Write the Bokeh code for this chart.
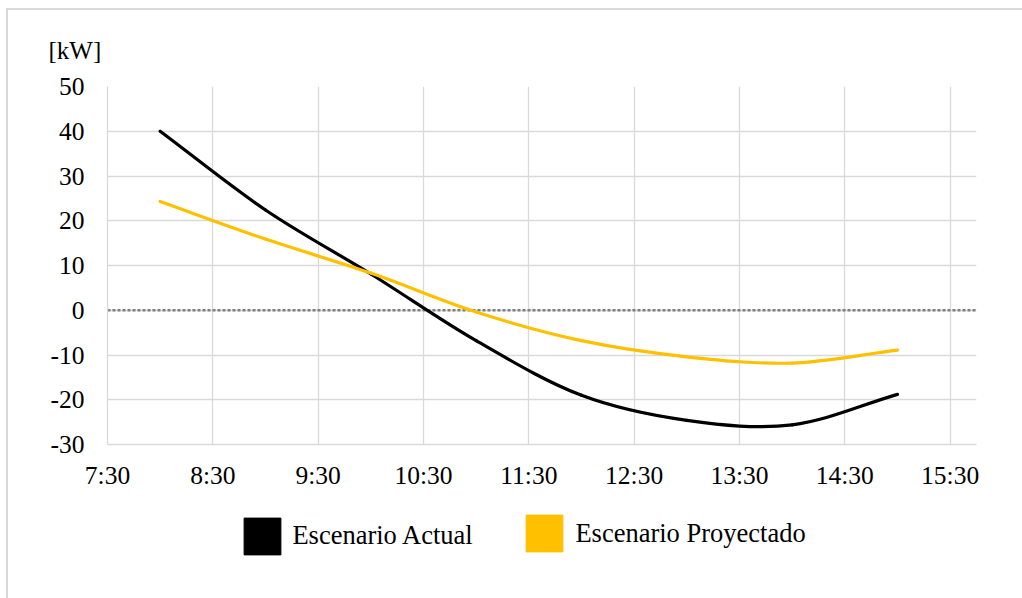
from bokeh.plotting import figure
from bokeh.layouts import column
from bokeh.models import (Range1d, FixedTicker, Span, Legend, LegendItem,
                          ColumnDataSource)
from bokeh.embed import file_html
from bokeh.resources import INLINE
import numpy as np

# Hourly power readings [kW]
times = ["8:00", "9:00", "10:00", "11:00", "12:00", "13:00", "14:00", "15:00"]
actual = [40.0, 22.4, 8.1, -6.8, -19.0, -24.6, -25.6, -18.8]
proyectado = [24.3, 15.9, 8.3, -0.4, -6.8, -10.4, -11.8, -8.9]

series_names = ["Escenario Actual", "Escenario Proyectado"]
series_colors = ["#000000", "#FFC000"]

x_tick_labels = ["7:30", "8:30", "9:30", "10:30", "11:30", "12:30", "13:30", "14:30", "15:30"]
y_ticks = [-30, -20, -10, 0, 10, 20, 30, 40, 50]
y_unit = "[kW]"

FONT = "Liberation Serif"
GRID = "#d9d9d9"
CANVAS_W = 1014


def to_hours(t):
    h, m = t.split(":")
    return int(h) + int(m) / 60.0


hours = [to_hours(t) for t in times]
x_ticks = [to_hours(t) for t in x_tick_labels]


def smooth_segments(xs, ys):
    """Cubic Bezier segments (Catmull-Rom style) through every data point."""
    P = np.column_stack([xs, ys]).astype(float)
    n = len(P)
    seg = {k: [] for k in ("x0", "y0", "x1", "y1", "cx0", "cy0", "cx1", "cy1")}
    for i in range(n - 1):
        p0 = P[i]
        p1 = P[i + 1]
        p_prev = P[i - 1] if i > 0 else 2 * p0 - p1
        p_next = P[i + 2] if i + 2 < n else 2 * p1 - p0
        c0 = p0 + (p1 - p_prev) / 6.0
        c1 = p1 - (p_next - p0) / 6.0
        seg["x0"].append(p0[0]); seg["y0"].append(p0[1])
        seg["x1"].append(p1[0]); seg["y1"].append(p1[1])
        seg["cx0"].append(c0[0]); seg["cy0"].append(c0[1])
        seg["cx1"].append(c1[0]); seg["cy1"].append(c1[1])
    return ColumnDataSource(seg)


# ---- main chart -------------------------------------------------------------
p = figure(frame_width=869, frame_height=358,
           min_border_left=99, min_border_right=46,
           min_border_top=76, min_border_bottom=56,
           x_range=Range1d(7.5, 15.75), y_range=Range1d(-30, 50),
           output_backend="svg", toolbar_location=None,
           background_fill_color="white", border_fill_color="white")
p.outline_line_color = None

# unit caption above the value axis
p.title.text = y_unit
p.title.align = "left"
p.title.offset = -59
p.title.standoff = 46
p.title.text_font = FONT
p.title.text_font_size = "25px"
p.title.text_font_style = "normal"
p.title.text_color = "#000000"

# axes
p.xaxis.ticker = FixedTicker(ticks=x_ticks)
p.xaxis.major_label_overrides = {x: lab for x, lab in zip(x_ticks, x_tick_labels)}
p.yaxis.ticker = FixedTicker(ticks=y_ticks)
p.yaxis.major_label_overrides = {v: str(v) for v in y_ticks}
for ax in (p.xaxis, p.yaxis):
    ax.axis_line_color = GRID
    ax.axis_line_width = 1.3
    ax.major_tick_line_color = None
    ax.minor_tick_line_color = None
    ax.major_tick_out = 0
    ax.major_tick_in = 0
    ax.major_label_text_font = FONT
    ax.major_label_text_font_size = "25.5px"
    ax.major_label_text_color = "#000000"
p.yaxis.major_label_standoff = 23
p.xaxis.major_label_standoff = 16

p.xgrid.grid_line_color = GRID
p.ygrid.grid_line_color = GRID
p.xgrid.grid_line_width = 1.3
p.ygrid.grid_line_width = 1.3

# zero reference line
p.add_layout(Span(location=0, dimension="width", line_color="#7f7f7f",
                  line_width=2.5, line_dash="3 2", level="underlay"))

# smoothed series
for ys, col in zip([actual, proyectado], series_colors):
    p.bezier(x0="x0", y0="y0", x1="x1", y1="y1", cx0="cx0", cy0="cy0",
             cx1="cx1", cy1="cy1", source=smooth_segments(hours, ys),
             line_color=col, line_width=3.2, line_cap="round")

# ---- legend strip -----------------------------------------------------------
leg = figure(frame_width=CANVAS_W, frame_height=98,
             min_border_left=0, min_border_right=0, min_border_top=0, min_border_bottom=0,
             x_range=Range1d(0, 1), y_range=Range1d(0, 1),
             x_axis_type=None, y_axis_type=None,
             output_backend="svg", toolbar_location=None,
             background_fill_color="white", border_fill_color="white")
leg.outline_line_color = None
leg.xgrid.visible = False
leg.ygrid.visible = False

# (x, y) of each legend box from the strip's bottom-left and the swatch-text gap
legend_pos = [(231.4, 39.1), (513.4, 41.6)]
standoffs = [7, 8]
for name, col, pos, so in zip(series_names, series_colors, legend_pos, standoffs):
    # swatch-only renderer: one undrawn (NaN) entry so the legend has a style to sample
    swatch = leg.quad(left=[np.nan], right=[np.nan], top=[np.nan], bottom=[np.nan],
                      fill_color=col, line_color=col)
    lg = Legend(items=[LegendItem(label=name, renderers=[swatch])], location=pos,
                glyph_width=46, glyph_height=46, label_height=37, label_standoff=so,
                label_text_font=FONT, label_text_font_size="26.5px",
                label_text_color="#000000", padding=0, margin=0,
                border_line_color=None, background_fill_alpha=0)
    leg.add_layout(lg)

layout = column(p, leg, spacing=0)
layout.styles = {"margin-left": "6px", "margin-top": "8px",
                 "border-left": "2px solid #d9d9d9", "border-top": "2px solid #d9d9d9"}

open("out.html", "w").write(file_html(layout, INLINE))
